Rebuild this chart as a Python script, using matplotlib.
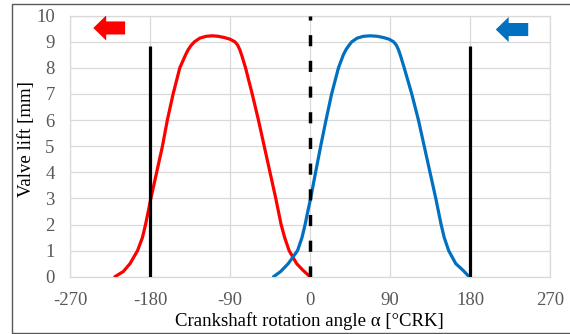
import matplotlib
matplotlib.use("Agg")
import matplotlib.pyplot as plt
from matplotlib.patches import FancyArrow, Rectangle

plt.rcParams["axes.unicode_minus"] = False

# exhaust valve lift (red)
exh_angle = [-219.5, -210, -202.5, -194, -188.5, -185, -182, -179, -172.5, -166,
             -160.5, -154, -146.5, -140, -137, -134, -130, -124, -117, -110,
             -103, -96, -90, -84.5, -81.5, -79, -76.5, -72.5, -65, -58,
             -51.5, -45, -38.5, -35.5, -32.5, -28.5, -23.5, -15, -8, 0]
exh_lift = [0, 0.2, 0.5, 1.0, 1.5, 2.0, 2.5, 3.0, 4.0, 5.0,
            6.0, 7.0, 8.0, 8.5, 8.7, 8.85, 9.0, 9.14, 9.21, 9.23,
            9.21, 9.16, 9.1, 9.0, 8.88, 8.7, 8.45, 8.0, 7.0, 6.0,
            5.0, 4.0, 3.0, 2.5, 2.0, 1.5, 1.0, 0.5, 0.25, 0]

# intake valve lift (blue)
int_angle = [-41, -33, -24.5, -14, -9, -5.5, -2.5, 0.7, 6.3, 12,
             18, 24.3, 32, 37.5, 40.5, 43.5, 47, 53, 60, 68,
             76, 83, 89, 94, 97, 99.5, 102, 106, 114.5, 122,
             128.5, 135, 141.5, 144.5, 147.5, 151, 156, 164, 172, 179]
int_lift = [0, 0.2, 0.5, 1.0, 1.5, 2.0, 2.5, 3.0, 4.0, 5.0,
            6.0, 7.0, 8.0, 8.5, 8.7, 8.85, 9.0, 9.14, 9.21, 9.23,
            9.21, 9.16, 9.1, 9.0, 8.88, 8.7, 8.45, 8.0, 7.0, 6.0,
            5.0, 4.0, 3.0, 2.5, 2.0, 1.5, 1.0, 0.5, 0.25, 0]

tdc_lines = [-180, 180]
tdc_height = 8.85
x_ticks = [-270, -180, -90, 0, 90, 180, 270]
y_ticks = list(range(0, 11))

red = "#FF0000"
blue = "#0070C0"
grid_c = "#D9D9D9"
tick_c = "#595959"
serif = ["Liberation Serif", "DejaVu Serif"]

fig = plt.figure(figsize=(5.7, 3.34), dpi=100)
ax = fig.add_axes([70 / 570, 1 - 276.7 / 334, 480 / 570, 261 / 334])

ax.plot(exh_angle, exh_lift, color=red, lw=2.3, zorder=3,
        solid_capstyle="round", solid_joinstyle="round")
ax.plot(int_angle, int_lift, color=blue, lw=2.3, zorder=3,
        solid_capstyle="round", solid_joinstyle="round")

for xv in tdc_lines:
    ax.plot([xv, xv], [0, tdc_height], color="black", lw=2.3, zorder=4,
            solid_capstyle="butt")
ax.plot([0, 0], [0, 10], color="black", lw=2.5, zorder=4,
        dashes=(3.2, 4.2))

# direction arrows
ax.add_patch(FancyArrow(-208, 9.53, -35.8, 0, width=0.5, head_width=0.96,
                        head_length=14.5, length_includes_head=True,
                        color=red, lw=0, zorder=5))
ax.add_patch(FancyArrow(245.5, 9.47, -36.5, 0, width=0.5, head_width=0.96,
                        head_length=14.5, length_includes_head=True,
                        color=blue, lw=0, zorder=5))

ax.set_xlim(-270, 270)
ax.set_ylim(0, 10)
ax.set_xticks(x_ticks)
ax.set_yticks(y_ticks)
ax.grid(True, color=grid_c, lw=0.9, zorder=0)
ax.set_axisbelow(True)
for s in ax.spines.values():
    s.set_color(grid_c)
    s.set_linewidth(0.9)
ax.tick_params(length=0, colors=tick_c, labelsize=13.5, pad=11)
for lab in ax.get_xticklabels() + ax.get_yticklabels():
    lab.set_fontfamily(serif)

fig.text(309 / 570, 1 - 321 / 334, "Crankshaft rotation angle α [°CRK]",
         ha="center", va="center", fontsize=13.5, family=serif, color="black")
fig.text(27 / 570, 1 - 139 / 334, "Valve lift [mm]", rotation=90,
         ha="center", va="center", fontsize=13.5, family=serif, color="black")

fig.patches.append(Rectangle((12 / 570, 1 / 334), 1.0, 329 / 334,
                             transform=fig.transFigure, fill=False,
                             edgecolor="#595959", lw=1.0))

fig.savefig("out.png", dpi=100)
